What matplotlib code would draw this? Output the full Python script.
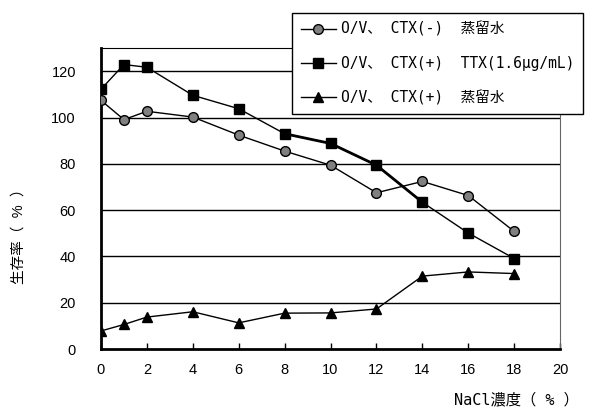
import matplotlib
matplotlib.use('Agg')
import matplotlib.pyplot as plt

# NaCl concentration (%) and survival rate (%) for each condition
nacl = [0, 1, 2, 4, 6, 8, 10, 12, 14, 16, 18]
ctx_minus_water = [107.4, 99.1, 102.7, 100.2, 92.4, 85.5, 79.4, 67.5, 72.4, 66.3, 50.8]
ctx_plus_ttx = [112.2, 122.9, 121.7, 109.6, 103.8, 93.0, 88.8, 79.4, 63.4, 50.1, 39.1]
ctx_plus_water = [7.8, 10.6, 13.8, 16.1, 11.3, 15.5, 15.6, 17.3, 31.5, 33.3, 32.6]

labels = [
    "O/V、 CTX(-)  蒸留水",
    "O/V、 CTX(+)  TTX(1.6μg/mL)",
    "O/V、 CTX(+)  蒸留水",
]

mono = ['DejaVu Sans Mono', 'Noto Sans CJK JP']
plt.rcParams['font.family'] = ['Liberation Sans', 'Noto Sans CJK JP']

fig = plt.figure(figsize=(5.94, 4.18), dpi=100)
ax = fig.add_axes([0.170, 0.165, 0.773, 0.72])

ax.plot(nacl, ctx_minus_water, color='black', lw=1, marker='o', ms=7,
        mfc='#808080', mec='black', mew=1, label=labels[0], zorder=3)
ax.plot(nacl, ctx_plus_ttx, color='black', lw=1, marker='s', ms=6.7,
        mfc='black', mec='black', label=labels[1], zorder=3)
# middle stretch of the TTX curve is drawn heavier
ax.plot(nacl[5:9], ctx_plus_ttx[5:9], color='black', lw=2, zorder=2)
ax.plot(nacl, ctx_plus_water, color='black', lw=1, marker='^', ms=7.5,
        mfc='black', mec='black', label=labels[2], zorder=3)

ax.set_xlim(0, 20)
ax.set_ylim(0, 130)
ax.set_xticks(range(0, 21, 2))
ax.set_yticks(range(0, 121, 20))
for y in range(20, 121, 20):
    ax.axhline(y, color='black', lw=1, zorder=1)

ax.spines['left'].set_linewidth(2)
ax.spines['bottom'].set_linewidth(2)
ax.spines['right'].set_linewidth(0.8)
ax.spines['right'].set_color('#666666')
ax.spines['top'].set_linewidth(0.8)
ax.tick_params(axis='x', direction='in', length=4, width=1, labelsize=10.5, pad=10)
ax.tick_params(axis='y', length=0, labelsize=10.5, pad=18)

fig.text(0.032, 0.443, "生存率（  %  ）", rotation=90, ha='center', va='center', fontsize=10.5)
fig.text(0.975, 0.026, "NaCl濃度（ % ）", ha='right', va='bottom', fontsize=11, family=mono)

leg = fig.legend(loc='upper left', bbox_to_anchor=(0.4916, 0.969), frameon=True,
                 fancybox=False, edgecolor='black', framealpha=1,
                 prop={'family': mono, 'size': 10.5}, handlelength=2.4,
                 labelspacing=1.3, borderpad=0.6, handletextpad=0.35,
                 borderaxespad=0)
leg.get_frame().set_linewidth(1)

plt.savefig('out.png', dpi=100)
plt.close()
